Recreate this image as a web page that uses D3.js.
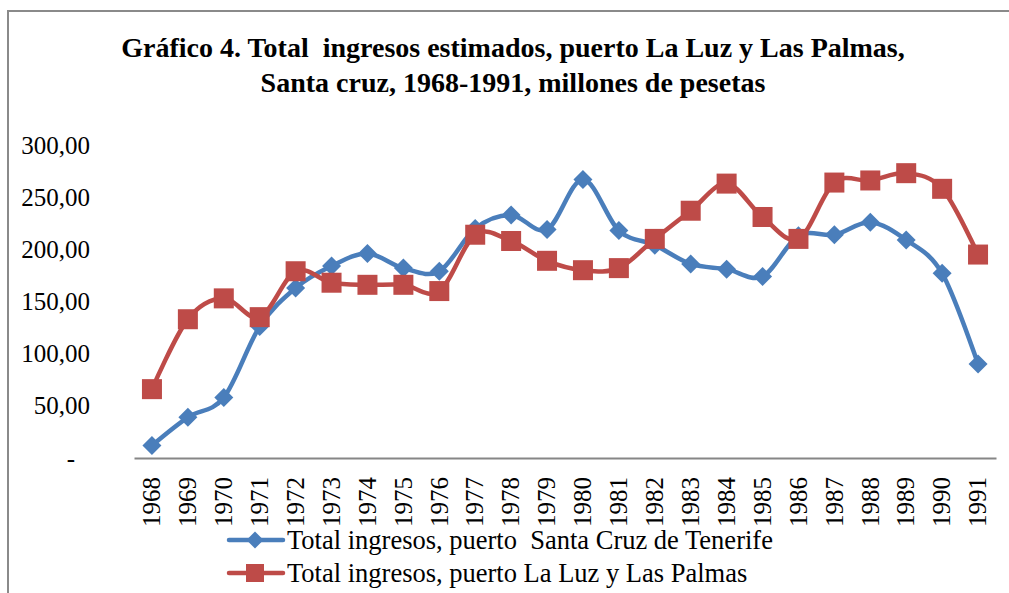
<!DOCTYPE html>
<html>
<head>
<meta charset="utf-8">
<script src="https://cdn.jsdelivr.net/npm/d3@7"></script>
<style>
  body { margin: 0; background: #fff; }
  text { font-family: "Liberation Serif", "Times New Roman", serif; fill: #000; }
</style>
</head>
<body>
<svg id="chart" width="1009" height="593"></svg>
<script>
// data
const years = ["1968","1969","1970","1971","1972","1973","1974","1975","1976","1977","1978","1979",
               "1980","1981","1982","1983","1984","1985","1986","1987","1988","1989","1990","1991"];
const santaCruz = [12, 39, 58, 126, 163, 184, 196, 182, 179, 220, 233, 219,
                   267, 218, 204, 186, 181, 174, 213, 214, 226, 209, 177, 90];
const laLuz = [66, 133, 153, 135, 179, 168, 166, 166, 160, 214, 208, 189,
               180, 182, 210, 237, 263, 231, 210, 264, 266, 273, 258, 195];
const yTicks = [0, 50, 100, 150, 200, 250, 300];
const titleLines = ["Gráfico 4. Total  ingresos estimados, puerto La Luz y Las Palmas,",
                    "Santa cruz, 1968-1991, millones de pesetas"];
const seriesNames = ["Total ingresos, puerto  Santa Cruz de Tenerife",
                     "Total ingresos, puerto La Luz y Las Palmas"];

const blue = "#4a7ebb", red = "#be4b48";

const svg = d3.select("#chart");

// outer chart frame (runs off the right and bottom)
svg.append("rect")
  .attr("x", 8).attr("y", 11)
  .attr("width", 1020).attr("height", 600)
  .attr("fill", "#fff")
  .attr("stroke", "#8a8a8a")
  .attr("stroke-width", 2);

// title
svg.append("g").selectAll("text")
  .data(titleLines)
  .join("text")
    .attr("x", 513)
    .attr("y", (d, i) => 57 + i * 35)
    .attr("text-anchor", "middle")
    .attr("font-weight", "bold")
    .attr("font-size", 28)
    .style("white-space", "pre")
    .text(d => d);

const x = d3.scaleBand().domain(years).range([134, 996]).padding(0);
const y = d3.scaleLinear().domain([0, 300]).range([458, 145]);
const cx = d => x(d) + x.bandwidth() / 2;

const es = d3.formatLocale({ decimal: ",", thousands: ".", grouping: [3], currency: ["", ""] });
const fmt = es.format(",.2f");

// y axis: labels only
const yAxisG = svg.append("g")
  .attr("transform", "translate(90,0)")
  .call(d3.axisLeft(y).tickValues(yTicks).tickSize(0).tickPadding(0)
    .tickFormat(d => d === 0 ? "-" : fmt(d)));
yAxisG.select(".domain").remove();
yAxisG.selectAll("text")
  .attr("font-family", "Liberation Serif")
  .attr("font-size", 25)
  .attr("fill", "#000")
  .attr("dx", d => d === 0 ? -15 : 0);

// x axis
const xAxisG = svg.append("g")
  .attr("transform", "translate(0,458)")
  .call(d3.axisBottom(x).tickSize(0).tickPadding(0));
xAxisG.select(".domain")
  .attr("stroke", "#868686")
  .attr("stroke-width", 2);
xAxisG.selectAll("text")
  .attr("font-family", "Liberation Serif")
  .attr("font-size", 25)
  .attr("fill", "#000")
  .attr("text-anchor", "end")
  .attr("transform", "translate(0,19) rotate(-90)")
  .attr("x", 0).attr("y", 0)
  .attr("dy", "0.33em");

// lines
const line = d3.line()
  .x((d, i) => cx(years[i]))
  .y(d => y(d))
  .curve(d3.curveCatmullRom.alpha(0));

const diamond = s => `M0,${-s}L${s},0L0,${s}L${-s},0Z`;

function drawSeries(vals, color, marker) {
  const g = svg.append("g");
  g.append("path")
    .datum(vals)
    .attr("d", line)
    .attr("fill", "none")
    .attr("stroke", color)
    .attr("stroke-width", 4.5)
    .attr("stroke-linejoin", "round");
  if (marker === "diamond") {
    g.selectAll("path.m").data(vals).join("path")
      .attr("class", "m")
      .attr("transform", (d, i) => `translate(${cx(years[i])},${y(d)})`)
      .attr("d", diamond(9.5))
      .attr("fill", color);
  } else {
    g.selectAll("rect.m").data(vals).join("rect")
      .attr("class", "m")
      .attr("x", (d, i) => cx(years[i]) - 10)
      .attr("y", d => y(d) - 10)
      .attr("width", 20).attr("height", 20)
      .attr("fill", color);
  }
}
drawSeries(santaCruz, blue, "diamond");
drawSeries(laLuz, red, "square");

// legend
const legend = svg.append("g");
[[blue, "diamond", 540], [red, "square", 573]].forEach(([color, marker, ly], i) => {
  legend.append("line")
    .attr("x1", 229).attr("x2", 283)
    .attr("y1", ly).attr("y2", ly)
    .attr("stroke", color).attr("stroke-width", 4.5)
    .attr("stroke-linecap", "round");
  if (marker === "diamond") {
    legend.append("path")
      .attr("transform", `translate(255,${ly})`)
      .attr("d", diamond(8.5))
      .attr("fill", color);
  } else {
    legend.append("rect")
      .attr("x", 246).attr("y", ly - 9)
      .attr("width", 18).attr("height", 18)
      .attr("fill", color);
  }
  legend.append("text")
    .attr("x", 287).attr("y", ly)
    .attr("dy", "0.33em")
    .attr("font-size", 26.5)
    .style("white-space", "pre")
    .text(seriesNames[i]);
});
</script>
</body>
</html>
